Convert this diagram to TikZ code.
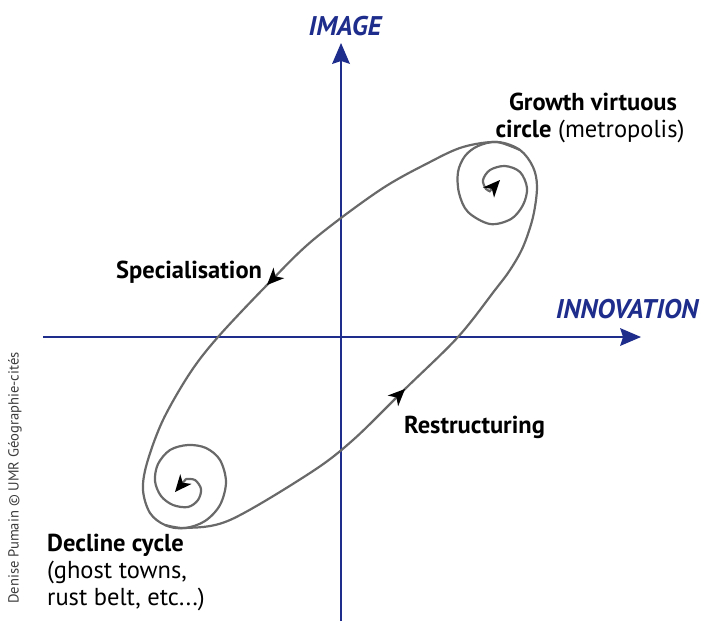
\documentclass[tikz,border=0pt]{standalone}
\usepackage{fontspec}
\setmainfont{PT Sans}
\usetikzlibrary{arrows.meta}
\definecolor{axisblue}{RGB}{30,45,140}
\definecolor{loopgrey}{RGB}{105,105,105}
\definecolor{creditgrey}{RGB}{60,60,60}
\begin{document}
\begin{tikzpicture}[x=1pt,y=-1pt,
  axisline/.style={draw=axisblue, line width=1.5pt, -{Stealth[length=21pt,width=18pt,inset=3pt,line width=0pt]}},
  loopline/.style={draw=loopgrey, line width=2.2pt, line cap=round},
  flowtip/.style={draw=loopgrey, line width=2.2pt, -{Stealth[length=17pt,width=15pt,inset=5pt,color=black,line width=0pt]}},
  lbl/.style={inner sep=0pt, font=\fontsize{24.5}{28}\selectfont},
  axlbl/.style={inner sep=0pt, text=axisblue, font=\fontsize{27}{30}\selectfont\bfseries\itshape}]
\useasboundingbox (0,0) rectangle (703,621);
% axes
\coordinate (xl) at (43,337);
\coordinate (xr) at (641,337);
\coordinate (yb) at (341,621);
\coordinate (yt) at (341,43);
\draw[axisline] (xl) -- (xr);
\draw[axisline] (yb) -- (yt);
\node[axlbl, anchor=base] (img) at (345,35) {IMAGE};
\node[axlbl, anchor=base] (inno) at (627,318) {INNOVATION};
% main loop
\draw[loopline] plot[smooth cycle, tension=0.55] coordinates {
 (497,142) (463,147) (430,162) (380,190) (313,240) (267,285) (218,337)
 (190,373) (163,420) (147,463) (143,490) (150,513) (165,525) (185,528)
 (230,520) (310,473) (353,440) (405,389) (458,337) (495,290) (510,270)
 (523,247) (533,217) (537,187) (533,167) (520,150)};
% flow arrows on the loop
\coordinate (sa) at (276.5,275.3);
\coordinate (sb) at (267,285);
\draw[flowtip] (sa) -- (sb);
\coordinate (ra) at (394.5,399.3);
\coordinate (rb) at (405,389);
\draw[flowtip] (ra) -- (rb);
% upper-right spiral
\draw[loopline] plot[smooth, tension=0.55] coordinates {
 (520,150) (497,142) (478,146) (465,156) (458,172) (459,193) (468,212)
 (490,224) (511,219) (523,205) (527,188) (520,172) (505,166) (490,170)
 (483,180) (486,189) (490,191)};
\coordinate (ga) at (489,192);
\coordinate (gb) at (500,180);
\draw[flowtip] (ga) -- (gb);
% lower-left spiral
\draw[loopline] plot[smooth, tension=0.55] coordinates {
 (165,525) (185,528) (205,521) (220,505) (226,482) (220,460) (206,448)
 (188,445) (170,450) (158,464) (155,481) (161,496) (173,505) (188,507)
 (198,500) (201,489) (195,480) (186,479)};
\coordinate (da) at (186,479);
\coordinate (db) at (175,492);
\draw[flowtip] (da) -- (db);
% labels
\node[lbl, anchor=base] (g1) at (593,110) {\bfseries Growth virtuous};
\node[lbl, anchor=base] (g2) at (590,137) {\textbf{circle} (metropolis)};
\node[lbl, anchor=base west] (spec) at (116,278) {\bfseries Specialisation};
\node[lbl, anchor=base west] (restr) at (404,433) {\bfseries Restructuring};
\node[lbl, anchor=base west] (d1) at (47,551) {\bfseries Decline cycle};
\node[lbl, anchor=base west] (d2) at (47,578) {(ghost towns,};
\node[lbl, anchor=base west] (d3) at (47,605) {rust belt, etc...)};
\node[inner sep=0pt, rotate=90, text=creditgrey, font=\fontsize{14.6}{17}\selectfont] (credit) at (15,478) {Denise Pumain © UMR Géographie-cités};
\end{tikzpicture}
\end{document}
